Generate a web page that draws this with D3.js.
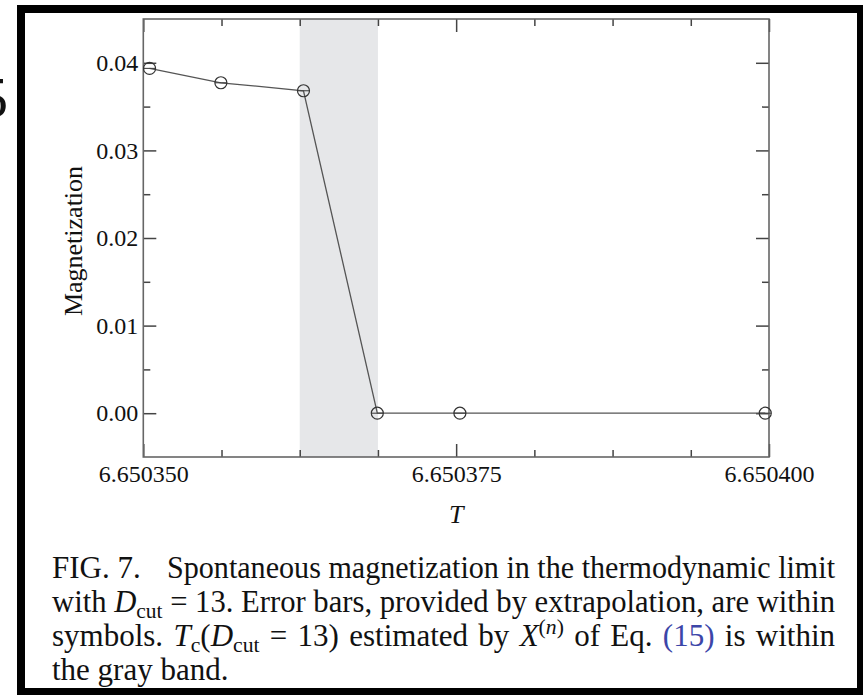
<!DOCTYPE html>
<html>
<head>
<meta charset="utf-8">
<script src="https://cdn.jsdelivr.net/npm/d3@7"></script>
<style>
  body { margin: 0; background: #fff; }
  svg text { font-family: "Liberation Serif", "DejaVu Serif", serif; }
</style>
</head>
<body>
<div id="chart"></div>
<script>
// data
const temps = [6.6503505, 6.6503562, 6.6503628, 6.6503687, 6.6503753, 6.6503997];
const magnet = [0.03936, 0.03772, 0.03681, 0.0, 0.0, 0.0];
const band = [6.6503625, 6.65036875];

const xMajor = [6.650350, 6.650375, 6.650400];
const xLabels = ["6.650350", "6.650375", "6.650400"];
const xMinor = [6.65035625, 6.6503625, 6.65036875, 6.65038125, 6.6503875, 6.65039375];
const yMajor = [0.00, 0.01, 0.02, 0.03, 0.04];
const yLabels = ["0.00", "0.01", "0.02", "0.03", "0.04"];
const yMinor = [0.005, 0.015, 0.025, 0.035];

const W = 863, H = 695;
const plot = { left: 143.3, right: 769, top: 19, bottom: 457 };

var xScale = d3.scaleLinear()
    .domain([6.650350, 6.650400])
    .range([plot.left, plot.right]);

var yScale = d3.scaleLinear()
    .domain([-0.005, 0.045])
    .range([plot.bottom, plot.top]);

var svg = d3.select("#chart").append("svg")
    .attr("width", W)
    .attr("height", H);

// stray glyph from the neighbouring page, cut at the left edge
svg.append("text")
    .attr("x", 8).attr("y", 117)
    .attr("text-anchor", "end")
    .attr("font-size", 57)
    .attr("fill", "#111")
    .text("5");

// thick black frame round the clipping
svg.append("rect")
    .attr("x", 21).attr("y", 9)
    .attr("width", 840).attr("height", 683)
    .attr("fill", "none")
    .attr("stroke", "#000")
    .attr("stroke-width", 8);

// gray band for Tc
svg.append("rect")
    .attr("x", xScale(band[0]))
    .attr("y", plot.top)
    .attr("width", xScale(band[1]) - xScale(band[0]))
    .attr("height", plot.bottom - plot.top)
    .attr("fill", "#e6e7e9");

// axes, ticks inside on all four sides
function styleAxis(g) {
    g.select(".domain").remove();
    g.selectAll(".tick line").attr("stroke", "#444").attr("stroke-width", 1.5);
    g.selectAll(".tick text")
        .attr("fill", "#111")
        .attr("font-family", "Liberation Serif, serif")
        .attr("font-size", 24);
}

svg.append("g")
    .attr("transform", "translate(0," + plot.bottom + ")")
    .call(d3.axisBottom(xScale).tickValues(xMajor).tickSize(-13).tickPadding(8)
        .tickFormat((d, i) => xLabels[i]))
    .call(styleAxis);
svg.append("g")
    .attr("transform", "translate(0," + plot.bottom + ")")
    .call(d3.axisBottom(xScale).tickValues(xMinor).tickSize(-7).tickFormat(""))
    .call(styleAxis);
svg.append("g")
    .attr("transform", "translate(0," + plot.top + ")")
    .call(d3.axisTop(xScale).tickValues(xMajor).tickSize(-13).tickFormat(""))
    .call(styleAxis);
svg.append("g")
    .attr("transform", "translate(0," + plot.top + ")")
    .call(d3.axisTop(xScale).tickValues(xMinor).tickSize(-7).tickFormat(""))
    .call(styleAxis);

svg.append("g")
    .attr("transform", "translate(" + plot.left + ",0)")
    .call(d3.axisLeft(yScale).tickValues(yMajor).tickSize(-13).tickPadding(5)
        .tickFormat((d, i) => yLabels[i]))
    .call(styleAxis);
svg.append("g")
    .attr("transform", "translate(" + plot.left + ",0)")
    .call(d3.axisLeft(yScale).tickValues(yMinor).tickSize(-7).tickFormat(""))
    .call(styleAxis);
svg.append("g")
    .attr("transform", "translate(" + plot.right + ",0)")
    .call(d3.axisRight(yScale).tickValues(yMajor).tickSize(-13).tickFormat(""))
    .call(styleAxis);
svg.append("g")
    .attr("transform", "translate(" + plot.right + ",0)")
    .call(d3.axisRight(yScale).tickValues(yMinor).tickSize(-7).tickFormat(""))
    .call(styleAxis);

// plot frame
svg.append("rect")
    .attr("x", plot.left).attr("y", plot.top)
    .attr("width", plot.right - plot.left)
    .attr("height", plot.bottom - plot.top)
    .attr("fill", "none")
    .attr("stroke", "#666")
    .attr("stroke-width", 1.6);

// axis titles
svg.append("text")
    .attr("x", (plot.left + plot.right) / 2)
    .attr("y", 523)
    .attr("text-anchor", "middle")
    .attr("font-size", 26)
    .attr("font-style", "italic")
    .attr("fill", "#111")
    .text("T");

svg.append("text")
    .attr("transform", "translate(82,241) rotate(-90)")
    .attr("text-anchor", "middle")
    .attr("font-size", 26)
    .attr("fill", "#111")
    .text("Magnetization");

// the data
var points = temps.map((t, i) => ({ t: t, m: magnet[i] }));

var line = d3.line()
    .x(d => xScale(d.t))
    .y(d => yScale(d.m));

svg.append("path")
    .datum(points)
    .attr("d", line)
    .attr("fill", "none")
    .attr("stroke", "#555")
    .attr("stroke-width", 1.3);

var r = 6;
var marks = svg.append("g").selectAll("g")
    .data(points)
    .join("g")
    .attr("transform", d => "translate(" + xScale(d.t) + "," + yScale(d.m) + ")");

// error bars are within the symbols: only the caps show
marks.append("line")
    .attr("x1", -r).attr("x2", r)
    .attr("stroke", "#444").attr("stroke-width", 1.1);
marks.append("circle")
    .attr("r", r)
    .attr("fill", "none")
    .attr("stroke", "#333")
    .attr("stroke-width", 1.2);

// caption
var capX = 52, capRight = 835, capSize = 31;
var cap = svg.append("g")
    .attr("font-size", capSize)
    .attr("fill", "#111");

// stretch the spaces to fill the line, or squeeze the whole line if it is too long
function justify(sel, width) {
    var node = sel.node();
    var len = node.getComputedTextLength();
    var spaces = (node.textContent.match(/ /g) || []).length;
    if (len > width) {
        sel.attr("textLength", width).attr("lengthAdjust", "spacingAndGlyphs");
    } else if (spaces > 0) {
        sel.attr("word-spacing", (width - len) / spaces);
    }
}

cap.append("text").attr("x", capX).attr("y", 578).text("FIG. 7.");
var l1 = cap.append("text").attr("x", 167).attr("y", 578)
    .text("Spontaneous magnetization in the thermodynamic limit");
justify(l1, capRight - 167);

var sub = capSize * 0.7;
var l2 = cap.append("text").attr("x", capX).attr("y", 612);
l2.append("tspan").text("with ");
l2.append("tspan").attr("font-style", "italic").text("D");
l2.append("tspan").attr("font-size", sub).attr("dy", 6).text("cut");
l2.append("tspan").attr("dy", -6).text(" = 13. Error bars, provided by extrapolation, are within");
justify(l2, capRight - capX);

var l3 = cap.append("text").attr("x", capX).attr("y", 646);
l3.append("tspan").text("symbols. ");
l3.append("tspan").attr("font-style", "italic").text("T");
l3.append("tspan").attr("font-size", sub).attr("dy", 6).text("c");
l3.append("tspan").attr("dy", -6).text("(");
l3.append("tspan").attr("font-style", "italic").text("D");
l3.append("tspan").attr("font-size", sub).attr("dy", 6).text("cut");
l3.append("tspan").attr("dy", -6).text(" = 13) estimated by ");
l3.append("tspan").attr("font-style", "italic").text("X");
l3.append("tspan").attr("font-size", sub).attr("dy", -12).text("(");
l3.append("tspan").attr("font-size", sub).attr("font-style", "italic").text("n");
l3.append("tspan").attr("font-size", sub).text(")");
l3.append("tspan").attr("dy", 12).text(" of Eq. ");
l3.append("tspan").attr("fill", "#3c46a8").text("(15)");
l3.append("tspan").text(" is within");
justify(l3, capRight - capX);

cap.append("text").attr("x", capX).attr("y", 680).text("the gray band.");
</script>
</body>
</html>
